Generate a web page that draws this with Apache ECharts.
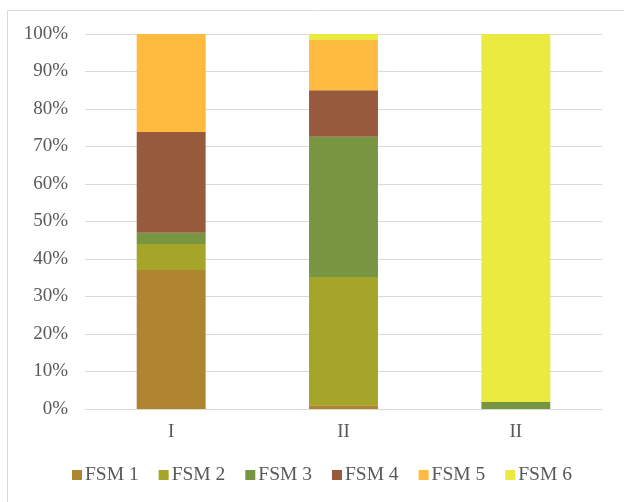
<!DOCTYPE html>
<html>
<head>
<meta charset="utf-8">
<script src="https://cdn.jsdelivr.net/npm/echarts@6/dist/echarts.min.js"></script>
<style>
  html, body { margin: 0; padding: 0; background: #fff; }
  #chart { width: 624px; height: 502px; }
</style>
</head>
<body>
<div id="chart"></div>
<script>
// Groups along the x axis
const categories = ['I', 'II', 'II'];

// Share (%) of each FSM class within every group
const fsm1 = [37.1, 1.0, 0];
const fsm2 = [6.9, 34.2, 0];
const fsm3 = [3.0, 37.4, 1.9];
const fsm4 = [26.9, 12.4, 0];
const fsm5 = [26.1, 13.4, 0];
const fsm6 = [0, 1.6, 98.1];

const seriesNames = ['FSM 1', 'FSM 2', 'FSM 3', 'FSM 4', 'FSM 5', 'FSM 6'];
const seriesValues = [fsm1, fsm2, fsm3, fsm4, fsm5, fsm6];
const seriesColors = ['#B08532', '#A5A52A', '#789641', '#975A3D', '#FFBA40', '#EAEA40'];

// Y-axis tick range (percent)
const yMin = 0;
const yMax = 100;
const yStep = 10;

const font = 'Liberation Serif, Times New Roman, serif';
const textColor = '#595959';
const lineColor = '#d9d9d9';

const chart = echarts.init(document.getElementById('chart'), null, { renderer: 'canvas' });

chart.setOption({
  animation: false,
  backgroundColor: '#ffffff',
  textStyle: { fontFamily: font },
  graphic: [{
    type: 'rect',
    shape: { x: 7.5, y: 10.5, width: 700, height: 600 },
    style: { fill: 'none', stroke: lineColor, lineWidth: 1 },
    silent: true
  }],
  grid: { left: 85, right: 22, top: 34, bottom: 93, containLabel: false },
  legend: {
    data: seriesNames,
    left: 72,
    top: 465,
    padding: 0,
    icon: 'rect',
    itemWidth: 10,
    itemHeight: 10,
    itemGap: 20,
    textStyle: { fontFamily: font, fontSize: 19.5, color: textColor, padding: [0, 0, 0, -2] }
  },
  xAxis: {
    type: 'category',
    data: categories,
    axisLine: { show: true, lineStyle: { color: lineColor, width: 1 } },
    axisTick: { show: false },
    axisLabel: { fontFamily: font, fontSize: 19, color: textColor, margin: 14 }
  },
  yAxis: {
    type: 'value',
    min: yMin,
    max: yMax,
    interval: yStep,
    axisLine: { show: false },
    axisTick: { show: false },
    splitLine: { lineStyle: { color: lineColor, width: 1 } },
    axisLabel: {
      fontFamily: font, fontSize: 19, color: textColor, margin: 17,
      formatter: '{value}%'
    }
  },
  series: seriesNames.map((name, i) => ({
    name: name,
    type: 'bar',
    stack: 'total',
    barWidth: '40%',
    data: seriesValues[i],
    itemStyle: { color: seriesColors[i] }
  }))
});
</script>
</body>
</html>
